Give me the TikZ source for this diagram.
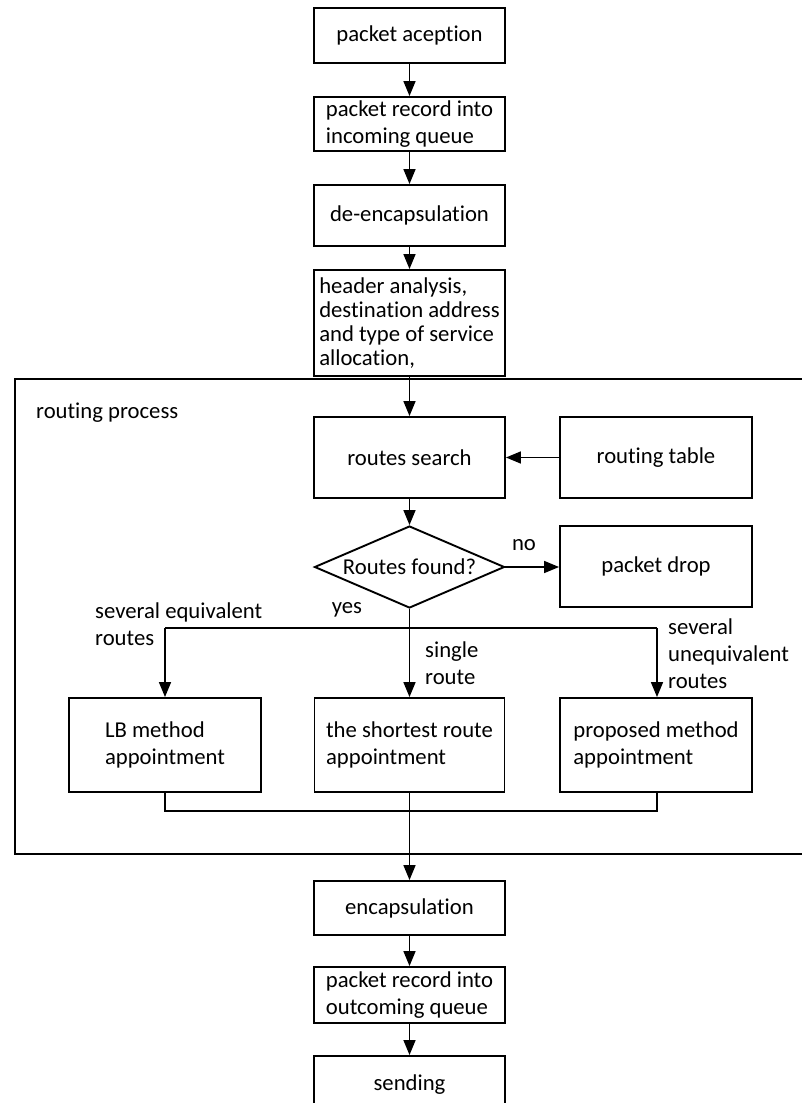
\documentclass[tikz,border=0pt]{standalone}
\usepackage{fontspec}
\setmainfont{Carlito}[Ligatures={NoCommon}]
\usetikzlibrary{arrows.meta,shapes.geometric}
\begin{document}
\begin{tikzpicture}[x=1pt,y=-1pt,
  font=\fontsize{22.7}{27}\selectfont,
  box/.style={draw, line width=1.9pt, inner sep=0pt, align=left, minimum width=191pt},
  arr/.style={line width=1.6pt, -{Triangle[length=15pt,width=12pt]}},
  ln/.style={line width=1.6pt},
  lbl/.style={inner sep=0pt, align=left}]
\useasboundingbox (0,0) rectangle (802,1103);
\clip (0,0) rectangle (802,1103);

% input stage
\node[box, minimum height=55pt] (acc) at (409.5,35.5) {packet aception};
\node[box, minimum height=54pt] (inq) at (409.5,124) {packet record into\\incoming queue};
\node[box, minimum height=61pt] (dec) at (409.5,215.5) {de-encapsulation};
\node[box, minimum height=106pt, font=\fontsize{22.7}{24}\selectfont] (hdr) at (409.5,323) {header analysis,\\destination address\\and type of service\\allocation,};

% routing process frame
\node[draw, line width=2pt, inner sep=0pt, minimum width=801pt, minimum height=475pt, anchor=north west] (frame) at (14,378) {};
\node[lbl, anchor=west] (rp) at (36,413) {routing process};

\node[box, minimum height=81pt] (rs) at (409.5,457.5) {routes search};
\node[box, minimum width=192pt, minimum height=81pt] (rt) at (656,457.5) {routing table};
\node[draw, diamond, aspect=2.3, line width=1.9pt, minimum width=190pt, minimum height=82pt, inner sep=0pt] (rf) at (409.5,567) {Routes found?};
\node[box, minimum width=192pt, minimum height=81pt] (pd) at (656,566.5) {packet drop};

\node[lbl] (no) at (524,545) {no};
\node[lbl] (yes) at (347,610) {yes};
\node[lbl, anchor=west] (seq) at (95,624) {several equivalent\\routes};
\node[lbl, anchor=west] (sgl) at (425,663.5) {single\\route};
\node[lbl, anchor=west] (suq) at (668,653.5) {several\\unequivalent\\routes};

\node[box, minimum width=192pt, minimum height=94pt] (lb) at (165,745) {LB method\\appointment};
\node[box, minimum width=190pt, minimum height=94pt] (sr) at (409.5,745) {the shortest route\\appointment};
\node[box, minimum width=192pt, minimum height=94pt] (pm) at (656,745) {proposed method\\appointment};

% output stage
\node[box, minimum height=54pt] (enc) at (409.5,908) {encapsulation};
\node[box, minimum height=56pt] (outq) at (409.5,995) {packet record into\\outcoming queue};
\node[box, minimum height=60pt, anchor=north] (snd) at (409.5,1055) {\raisebox{7pt}{sending}};

% connectors
\draw[arr] (acc.south) -- (inq.north);
\draw[arr] (inq.south) -- (dec.north);
\draw[arr] (dec.south) -- (hdr.north);
\draw[arr] (hdr.south) -- (rs.north);
\draw[arr] (rt.west) -- (rs.east);
\draw[arr] (rs.south) -- (rf.north);
\draw[arr] (rf.east) -- (rf.east -| pd.west);

\coordinate (bl) at (165,628);
\coordinate (br) at (657,628);
\draw[ln] (bl) -- (br);
\draw[arr] (rf.south) -- (sr.north);
\draw[arr] (bl) -- (lb.north);
\draw[arr] (br) -- (br |- pm.north);

\coordinate (ml) at (165,811);
\coordinate (mr) at (657,811);
\draw[ln] (lb.south) -- (ml) -- (mr) -- (mr |- pm.south);
\draw[arr] (sr.south) -- (enc.north);
\draw[arr] (enc.south) -- (outq.north);
\draw[arr] (outq.south) -- (snd.north);
\end{tikzpicture}
\end{document}
